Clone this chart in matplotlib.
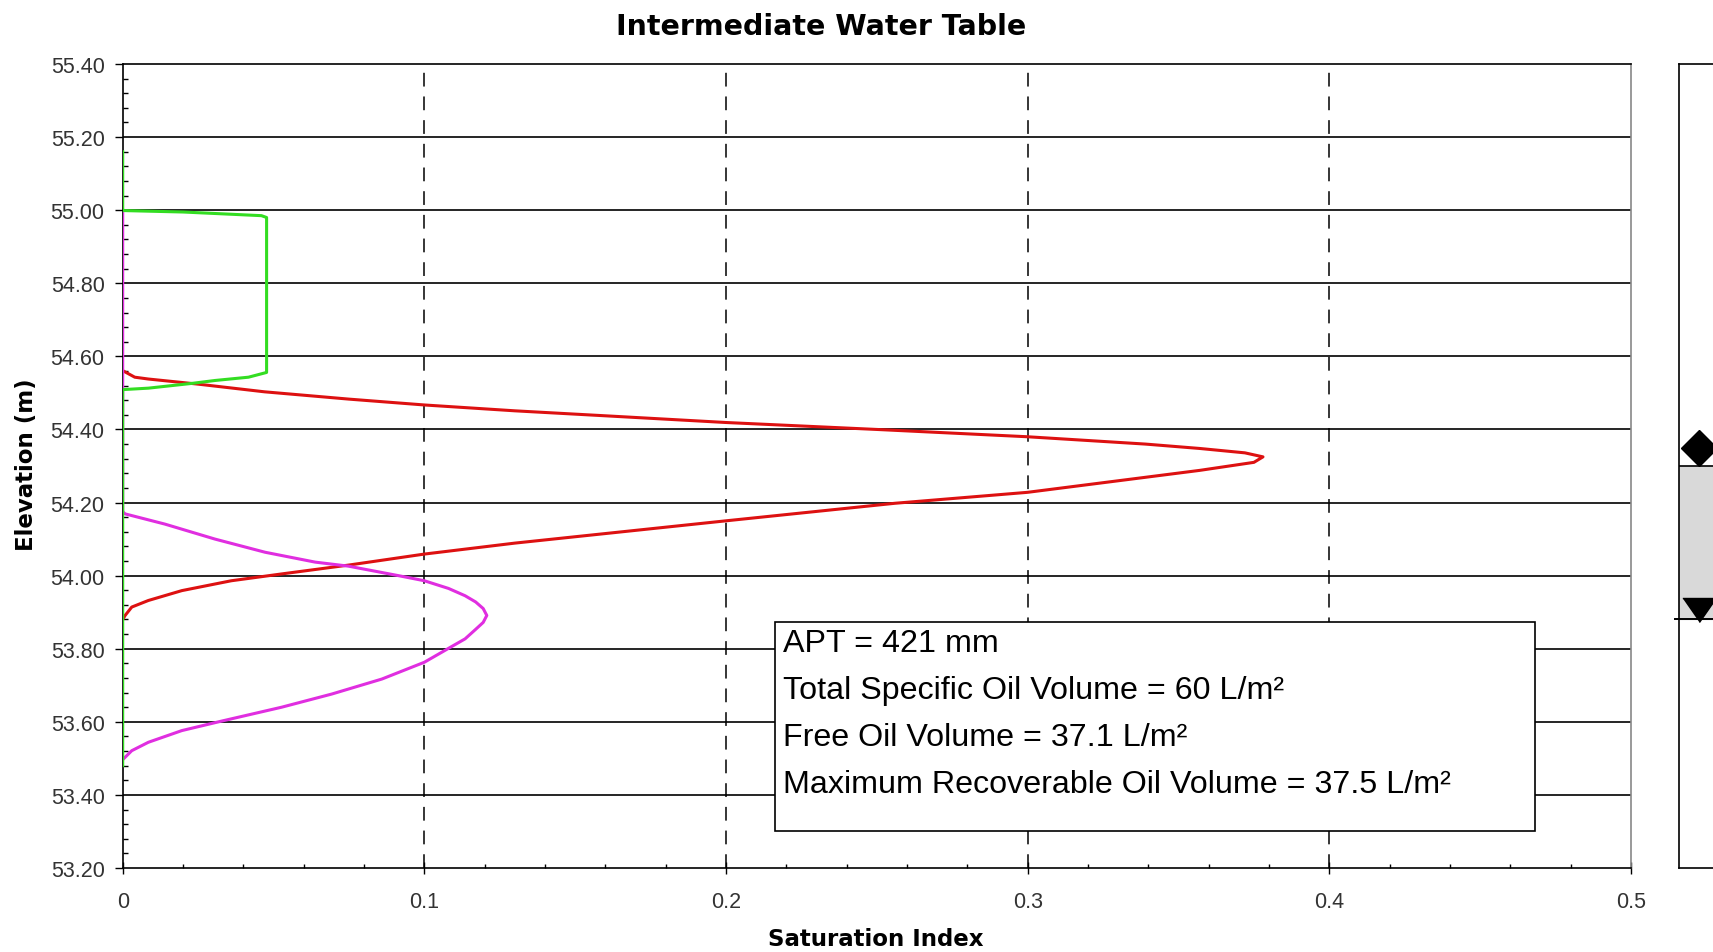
import numpy as np
import matplotlib
matplotlib.use("Agg")
import matplotlib.pyplot as plt
from matplotlib.patches import Rectangle

# Saturation profiles (saturation index, elevation m)
red_x = [0.0, 0.004, 0.0085, 0.025, 0.047, 0.075, 0.100, 0.130, 0.163, 0.200,
         0.250, 0.300, 0.339, 0.357, 0.372, 0.378, 0.375, 0.357, 0.300, 0.256,
         0.200, 0.130, 0.100, 0.075, 0.053, 0.036, 0.0196, 0.0085, 0.003,
         0.0008, 0.0]
red_y = [54.561, 54.543, 54.538, 54.524, 54.503, 54.483, 54.467, 54.451, 54.436,
         54.419, 54.400, 54.380, 54.360, 54.348, 54.336, 54.325, 54.310, 54.288,
         54.228, 54.198, 54.150, 54.089, 54.059, 54.029, 54.005, 53.986, 53.959,
         53.932, 53.914, 53.891, 53.880]

magenta_x = [0.0, 0.0, 0.0008, 0.014, 0.0306, 0.0472, 0.0638, 0.0748, 0.0914,
             0.100, 0.108, 0.1135, 0.117, 0.1195, 0.1207, 0.1195, 0.117, 0.1135,
             0.108, 0.100, 0.0859, 0.0693, 0.0527, 0.0328, 0.0196, 0.0085,
             0.003, 0.0002]
magenta_y = [55.000, 54.175, 54.169, 54.141, 54.100, 54.064, 54.037, 54.026,
             54.000, 53.986, 53.965, 53.945, 53.928, 53.910, 53.891, 53.872,
             53.853, 53.827, 53.801, 53.763, 53.717, 53.676, 53.640, 53.602,
             53.576, 53.544, 53.521, 53.498]

green_x = [0.0, 0.0, 0.020, 0.046, 0.0477, 0.0477, 0.0417, 0.0306, 0.0229,
           0.0085, 0.0, 0.0]
green_y = [55.160, 54.999, 54.995, 54.985, 54.980, 54.556, 54.543, 54.534,
           54.526, 54.513, 54.509, 53.480]

# Well column panel
lnapl_level = 54.35     # diamond marker
oil_top = 54.30         # top of shaded oil zone
water_table = 53.88     # water table (triangle)
water_marker = 53.906

info_lines = ["APT = 421 mm",
              "Total Specific Oil Volume = 60 L/m²",
              "Free Oil Volume = 37.1 L/m²",
              "Maximum Recoverable Oil Volume = 37.5 L/m²"]

x_major = [0, 0.1, 0.2, 0.3, 0.4, 0.5]
x_labels = ["0", "0.1", "0.2", "0.3", "0.4", "0.5"]
y_major = np.round(np.arange(53.2, 55.41, 0.2), 2)

W, H = 1713, 953
fig = plt.figure(figsize=(W / 100, H / 100), dpi=100)
ax = fig.add_axes([122.7 / W, 1 - 869 / H, (1631 - 122.7) / W, (869 - 65) / H])

tick_font = ["Liberation Sans", "DejaVu Sans"]

ax.set_xlim(0, 0.5)
ax.set_ylim(53.2, 55.4)
ax.set_xticks(x_major)
ax.set_xticklabels(x_labels, family=tick_font, fontsize=15.5, color="#333333")
ax.set_xticks(np.arange(0, 0.5001, 0.02), minor=True)
ax.set_yticks(y_major)
ax.set_yticklabels([f"{v:.2f}" for v in y_major], family=tick_font,
                   fontsize=15.5, color="#333333")
ax.set_yticks(np.arange(53.2, 55.401, 0.04), minor=True)

ax.tick_params(axis="y", which="major", direction="out", length=6, width=1,
               pad=7)
ax.tick_params(axis="y", which="minor", direction="in", length=3.5, width=1)
ax.tick_params(axis="x", which="major", direction="inout", length=9, width=1,
               pad=12)
ax.tick_params(axis="x", which="minor", direction="in", length=3, width=1)

for s in ["left", "bottom", "top"]:
    ax.spines[s].set_color("black")
    ax.spines[s].set_linewidth(1.2)
ax.spines["right"].set_color("#888888")
ax.spines["right"].set_linewidth(1.2)

# grid
for v in y_major[1:-1]:
    ax.axhline(v, color="black", lw=1.2, zorder=1)
for v in x_major[1:-1]:
    ax.axvline(v, color="black", lw=1.1, ls=(0, (9, 6.5)), zorder=1)

ax.plot(red_x, red_y, color="#dd1111", lw=2.2, zorder=3, solid_joinstyle="round")
ax.plot(magenta_x, magenta_y, color="#e02ee0", lw=2.2, zorder=4,
        solid_joinstyle="round")
ax.plot(green_x, green_y, color="#33dd22", lw=2.2, zorder=5,
        solid_joinstyle="round")

# info box
ax.add_patch(Rectangle((0.2163, 53.3015), 0.4683 - 0.2163, 53.873 - 53.3015,
                       facecolor="white", edgecolor="black", lw=1.2, zorder=6))
for i, line in enumerate(info_lines):
    ax.text(0.219, 53.817 - i * 0.1293, line, fontsize=23.2,
            family=["Liberation Sans", "DejaVu Sans"], va="center", ha="left",
            color="black", zorder=7)

fig.text(821 / W, 1 - 27 / H, "Intermediate Water Table", fontsize=20.5,
         fontweight="bold", ha="center", va="center")
fig.text(876 / W, 1 - 940 / H, "Saturation Index", fontsize=16.5,
         fontweight="bold", ha="center", va="center")
fig.text(27 / W, 1 - 465 / H, "Elevation (m)", fontsize=16.5,
         fontweight="bold", ha="center", va="center", rotation=90)

# well column panel
ax2 = fig.add_axes([1679 / W, 1 - 869 / H, 60 / W, (869 - 65) / H])
ax2.set_xlim(0, 1)
ax2.set_ylim(53.2, 55.4)
ax2.set_xticks([])
ax2.set_yticks([])
for s in ax2.spines.values():
    s.set_color("black")
    s.set_linewidth(1.2)
ax2.axhspan(water_table, oil_top, color="#d9d9d9", zorder=1)
ax2.axhline(oil_top, color="black", lw=1.2, zorder=2)
ax2.plot([-0.07, 1.0], [water_table, water_table], color="black", lw=1.4,
         clip_on=False, zorder=2)
ax2.plot([0.33], [lnapl_level], marker="D", ms=18, color="black", zorder=3,
         clip_on=False)
ax2.plot([0.33], [water_marker], marker=[(-1, 0.72), (1, 0.72), (0, -0.72)],
         ms=24, color="black", zorder=3, clip_on=False)

fig.savefig("out.png", dpi=100)
